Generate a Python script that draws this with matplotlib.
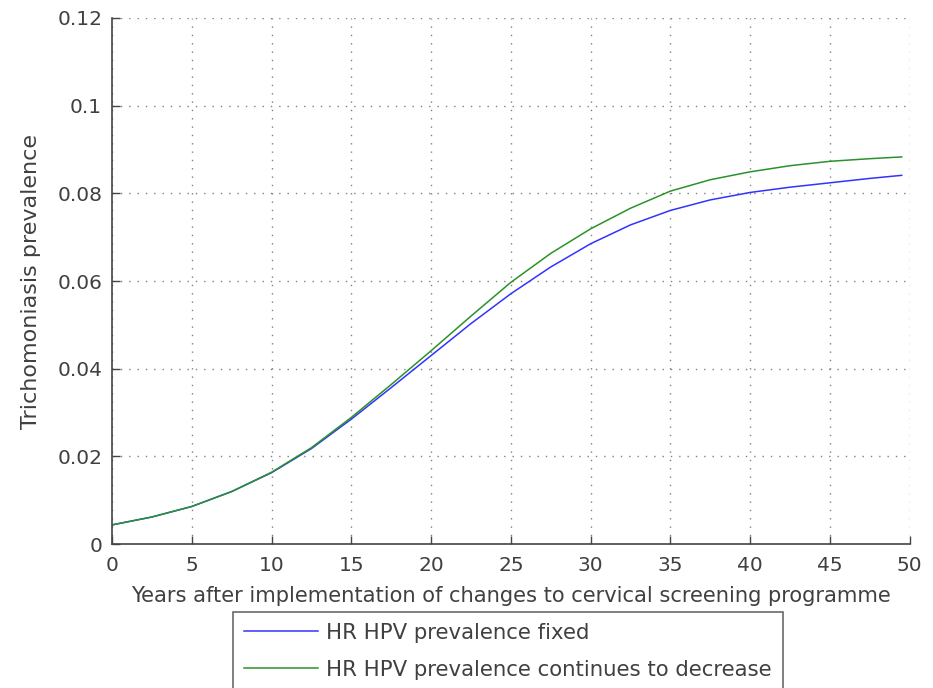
import matplotlib
matplotlib.use("Agg")
import matplotlib.pyplot as plt

# Values
years = [0, 2.5, 5, 7.5, 10, 12.5, 15, 17.5, 20, 22.5, 25, 27.5,
         30, 32.5, 35, 37.5, 40, 42.5, 45, 47.5, 49.5]
hpv_fixed = [0.0044, 0.0062, 0.0086, 0.0120, 0.0163, 0.0218, 0.0285, 0.0357,
             0.0430, 0.0503, 0.0571, 0.0632, 0.0685, 0.0728, 0.0761, 0.0785,
             0.0802, 0.0814, 0.0824, 0.0834, 0.0841]
hpv_decreasing = [0.0044, 0.0062, 0.0086, 0.0120, 0.0164, 0.0220, 0.0289, 0.0364,
                  0.0441, 0.0520, 0.0597, 0.0663, 0.0719, 0.0766, 0.0805, 0.0831,
                  0.0849, 0.0863, 0.0873, 0.0879, 0.0883]

x_ticks = [0, 5, 10, 15, 20, 25, 30, 35, 40, 45, 50]
y_ticks = [0, 0.02, 0.04, 0.06, 0.08, 0.1, 0.12]
y_tick_labels = ["0", "0.02", "0.04", "0.06", "0.08", "0.1", "0.12"]

plt.rcParams["font.family"] = ["DejaVu Sans"]
text_col = "#404040"

fig = plt.figure(figsize=(9.33, 6.88), dpi=100)
ax = fig.add_axes([0.120, 0.209, 0.855, 0.765])

ax.plot(years, hpv_fixed, color="#3333ff", lw=1.1, label="HR HPV prevalence fixed")
ax.plot(years, hpv_decreasing, color="#2a922a", lw=1.1,
        label="HR HPV prevalence continues to decrease")

ax.set_xlim(0, 50)
ax.set_ylim(0, 0.12)
ax.set_xticks(x_ticks)
ax.set_yticks(y_ticks)
ax.set_yticklabels(y_tick_labels)

# matlab style: box off, dotted grid, inward ticks
for side in ["top", "right"]:
    ax.spines[side].set_visible(False)
for side in ["left", "bottom"]:
    ax.spines[side].set_color("#444444")
    ax.spines[side].set_linewidth(1.2)
ax.grid(True, linestyle=(0, (1, 5)), color="#808080", lw=1.0)
ax.tick_params(direction="in", length=6, width=1, colors="#444444",
               labelcolor=text_col, labelsize=14.5)
ax.tick_params(axis="x", pad=8.5)
ax.tick_params(axis="y", pad=7)

ax.set_xlabel("Years after implementation of changes to cervical screening programme",
              fontsize=15.1, color=text_col, labelpad=8)
ax.set_ylabel("Trichomoniasis prevalence", fontsize=16, color=text_col, labelpad=12)

leg = fig.legend(loc="upper left", bbox_to_anchor=(233 / 933, 1 - 612 / 688),
                 fontsize=15.3, frameon=True, fancybox=False, borderaxespad=0,
                 handlelength=3.5, handletextpad=0.4, labelspacing=0.8,
                 borderpad=0.5)
leg.get_frame().set_edgecolor("#444444")
leg.get_frame().set_linewidth(1.2)
for t in leg.get_texts():
    t.set_color(text_col)

fig.savefig("out.png", dpi=100)
